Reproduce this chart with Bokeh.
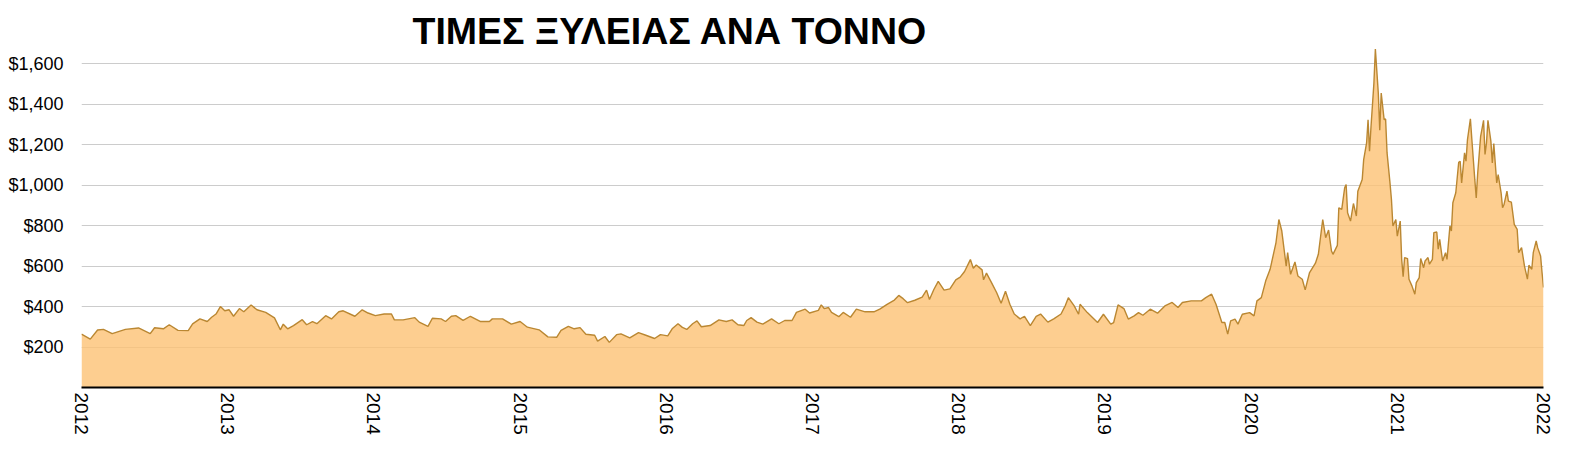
import numpy as np
from bokeh.plotting import figure
from bokeh.models import ColumnDataSource, FixedTicker, NumeralTickFormatter, Label, Range1d, CustomJSTickFormatter
from bokeh.embed import file_html
from bokeh.resources import INLINE

title_text = "ΤΙΜΕΣ ΞΥΛΕΙΑΣ ΑΝΑ ΤΟΝΝΟ"

year_ticks = [2012, 2013, 2014, 2015, 2016, 2017, 2018, 2019, 2020, 2021, 2022]
price_ticks = [200, 400, 600, 800, 1000, 1200, 1400, 1600]

years = [
    2012.00, 2012.06, 2012.11, 2012.15, 2012.21, 2012.30, 2012.39, 2012.47, 2012.50, 2012.56,
    2012.60, 2012.66, 2012.73, 2012.76, 2012.81, 2012.86, 2012.89, 2012.92, 2012.95, 2012.98,
    2013.01, 2013.04, 2013.08, 2013.11, 2013.16, 2013.20, 2013.26, 2013.32, 2013.36, 2013.38,
    2013.41, 2013.45, 2013.51, 2013.54, 2013.58, 2013.61, 2013.67, 2013.71, 2013.76, 2013.79,
    2013.87, 2013.92, 2013.96, 2014.01, 2014.07, 2014.12, 2014.14, 2014.20, 2014.28, 2014.31,
    2014.37, 2014.40, 2014.46, 2014.49, 2014.53, 2014.56, 2014.61, 2014.66, 2014.73, 2014.79,
    2014.81, 2014.88, 2014.94, 2015.00, 2015.05, 2015.13, 2015.19, 2015.25, 2015.28, 2015.33,
    2015.37, 2015.41, 2015.45, 2015.51, 2015.53, 2015.58, 2015.61, 2015.66, 2015.69, 2015.75,
    2015.81, 2015.86, 2015.92, 2015.96, 2016.01, 2016.04, 2016.08, 2016.11, 2016.14, 2016.18,
    2016.21, 2016.24, 2016.30, 2016.36, 2016.41, 2016.45, 2016.49, 2016.53, 2016.55, 2016.58,
    2016.62, 2016.66, 2016.72, 2016.77, 2016.81, 2016.86, 2016.89, 2016.95, 2016.98, 2017.04,
    2017.06, 2017.08, 2017.11, 2017.13, 2017.18, 2017.21, 2017.26, 2017.30, 2017.36, 2017.42,
    2017.46, 2017.51, 2017.56, 2017.59, 2017.62, 2017.65, 2017.70, 2017.75, 2017.78, 2017.80,
    2017.83, 2017.86, 2017.90, 2017.94, 2017.98, 2018.01, 2018.04, 2018.08, 2018.10, 2018.12,
    2018.16, 2018.17, 2018.19, 2018.22, 2018.26, 2018.29, 2018.32, 2018.35, 2018.38, 2018.42,
    2018.45, 2018.49, 2018.53, 2018.56, 2018.61, 2018.65, 2018.70, 2018.73, 2018.75, 2018.79,
    2018.82, 2018.83, 2018.88, 2018.95, 2018.99, 2019.04, 2019.06, 2019.09, 2019.13, 2019.16,
    2019.20, 2019.23, 2019.26, 2019.31, 2019.36, 2019.41, 2019.46, 2019.50, 2019.53, 2019.59,
    2019.66, 2019.69, 2019.73, 2019.76, 2019.80, 2019.82, 2019.84, 2019.86, 2019.89, 2019.91,
    2019.94, 2019.99, 2020.02, 2020.04, 2020.07, 2020.10, 2020.13, 2020.17, 2020.19, 2020.21,
    2020.24, 2020.25, 2020.27, 2020.30, 2020.32, 2020.35, 2020.37, 2020.40, 2020.44, 2020.46,
    2020.49, 2020.51, 2020.53, 2020.55, 2020.56, 2020.59, 2020.60, 2020.62, 2020.64, 2020.65,
    2020.66, 2020.68, 2020.70, 2020.72, 2020.73, 2020.76, 2020.77, 2020.79, 2020.80, 2020.81,
    2020.82, 2020.84, 2020.85, 2020.87, 2020.88, 2020.89, 2020.91, 2020.92, 2020.93, 2020.95,
    2020.96, 2020.97, 2020.99, 2021.00, 2021.02, 2021.03, 2021.04, 2021.05, 2021.07, 2021.08,
    2021.10, 2021.12, 2021.13, 2021.15, 2021.16, 2021.18, 2021.19, 2021.21, 2021.22, 2021.24,
    2021.25, 2021.27, 2021.28, 2021.29, 2021.31, 2021.33, 2021.34, 2021.36, 2021.37, 2021.38,
    2021.40, 2021.42, 2021.43, 2021.44, 2021.46, 2021.47, 2021.48, 2021.50, 2021.51, 2021.53,
    2021.54, 2021.55, 2021.57, 2021.59, 2021.60, 2021.61, 2021.62, 2021.64, 2021.65, 2021.66,
    2021.68, 2021.69, 2021.71, 2021.72, 2021.73, 2021.75, 2021.76, 2021.78, 2021.80, 2021.82,
    2021.83, 2021.85, 2021.87, 2021.89, 2021.90, 2021.92, 2021.93, 2021.95, 2021.96, 2021.98,
    2021.99, 2022.00,
]

prices = [
    264, 239, 284, 287, 266, 287, 294, 266, 295, 290,
    310, 282, 281, 314, 339, 326, 347, 363, 400, 379,
    384, 352, 390, 374, 408, 384, 371, 344, 285, 313,
    290, 306, 335, 310, 326, 315, 355, 339, 374, 379,
    352, 384, 368, 355, 363, 363, 334, 334, 345, 323,
    302, 342, 339, 326, 352, 355, 332, 352, 326, 326,
    339, 339, 313, 326, 298, 285, 250, 248, 282, 302,
    290, 296, 263, 258, 229, 252, 223, 261, 265, 245,
    271, 258, 242, 261, 255, 290, 315, 297, 287, 315,
    329, 300, 306, 334, 326, 334, 310, 306, 331, 345,
    323, 313, 339, 315, 331, 331, 371, 387, 368, 381,
    408, 390, 395, 371, 350, 371, 347, 387, 374, 374,
    387, 411, 432, 455, 439, 419, 431, 447, 481, 435,
    484, 524, 481, 487, 532, 545, 573, 632, 589, 605,
    581, 532, 565, 524, 468, 416, 476, 411, 363, 339,
    352, 306, 352, 363, 323, 339, 363, 406, 444, 403,
    362, 411, 370, 321, 362, 313, 321, 408, 390, 338,
    354, 370, 357, 387, 367, 403, 420, 395, 420, 428,
    428, 444, 461, 411, 321, 321, 264, 329, 338, 313,
    362, 370, 354, 428, 444, 527, 584, 715, 830, 773,
    600, 666, 559, 620, 551, 535, 482, 568, 614, 658,
    830, 740, 778, 674, 658, 702, 888, 880, 987, 1003,
    863, 822, 909, 847, 970, 1028, 1126, 1208, 1323, 1167,
    1287, 1504, 1672, 1455, 1271, 1455, 1323, 1327, 1159, 1011,
    929, 798, 830, 748, 822, 633, 548, 642, 637, 535,
    502, 461, 518, 543, 637, 592, 625, 642, 609, 633,
    765, 768, 683, 732, 625, 666, 633, 798, 773, 913,
    962, 1113, 1118, 1011, 1159, 1118, 1225, 1327, 1225, 1028,
    937, 1060, 1241, 1320, 1151, 1208, 1320, 1217, 1110, 1205,
    1011, 1052, 962, 888, 904, 970, 921, 916, 806, 781,
    666, 691, 600, 535, 604, 584, 666, 724, 691, 650,
    568, 494,
]

source = ColumnDataSource(data=dict(x=years, y=prices, base=[0] * len(years)))

p = figure(
    width=1554, height=439,
    output_backend="svg", toolbar_location=None,
    x_range=Range1d(2012, 2022), y_range=Range1d(0, 1912),
    min_border_left=81, min_border_right=11, min_border_top=0, min_border_bottom=52,
)
p.outline_line_color = None
p.background_fill_color = "white"
p.border_fill_color = "white"

p.varea(x="x", y1="base", y2="y", source=source, fill_color=(252, 194, 116), fill_alpha=0.8)
p.line(x="x", y="y", source=source, line_color="#BA8732", line_width=1.4)

# x axis
p.xaxis.ticker = FixedTicker(ticks=year_ticks)
p.xaxis.formatter = CustomJSTickFormatter(code="return tick.toFixed(0);")
p.xaxis.major_label_orientation = "vertical"
p.xaxis.major_label_text_font = "Liberation Sans"
p.xaxis.major_label_text_font_size = "19px"
p.xaxis.major_label_text_color = "black"
p.xaxis.major_label_standoff = 5
p.xaxis.major_tick_out = 0
p.xaxis.major_tick_in = 0
p.xaxis.axis_line_color = "black"
p.xaxis.axis_line_width = 2
p.xaxis.major_tick_line_color = None
p.xaxis.minor_tick_line_color = None

# y axis
p.yaxis.ticker = FixedTicker(ticks=price_ticks)
p.yaxis.formatter = NumeralTickFormatter(format="$0,0")
p.yaxis.major_label_text_font = "Liberation Sans"
p.yaxis.major_label_text_font_size = "18px"
p.yaxis.major_label_text_color = "black"
p.yaxis.major_label_standoff = 18
p.yaxis.major_tick_out = 0
p.yaxis.major_tick_in = 0
p.yaxis.axis_line_color = None
p.yaxis.major_tick_line_color = None
p.yaxis.minor_tick_line_color = None

p.xgrid.grid_line_color = None
p.ygrid.ticker = FixedTicker(ticks=price_ticks)
p.ygrid.grid_line_color = "#CCCCCC"
p.ygrid.grid_line_width = 1

title = Label(
    x=2014.264, y=1759,
    text=title_text, text_font="Liberation Sans", text_font_style="bold",
    text_font_size="37.5px", text_color="black", text_baseline="alphabetic",
)
p.add_layout(title)

open("out.html", "w").write(file_html(p, INLINE))
